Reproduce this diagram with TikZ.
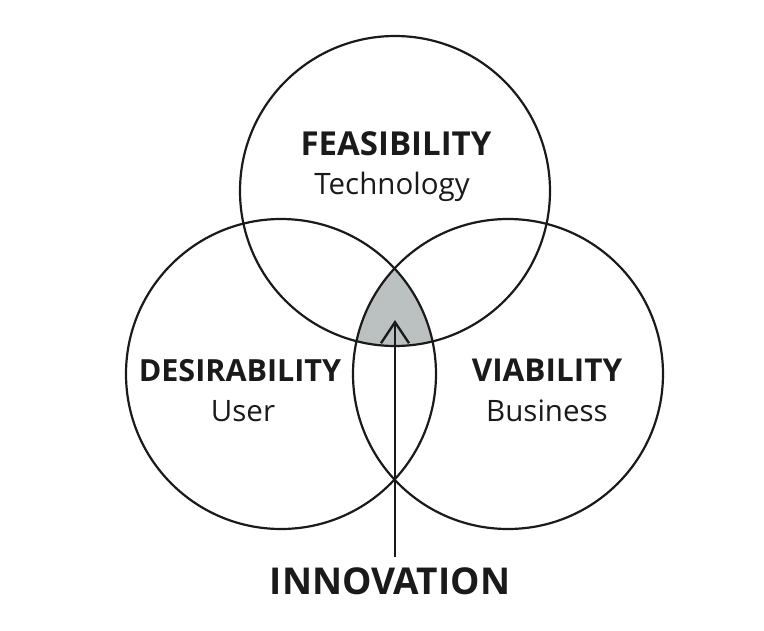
\documentclass[tikz,border=0pt]{standalone}
\usepackage{fontspec}
\setmainfont{Open Sans}
\usetikzlibrary{arrows.meta}
\definecolor{ink}{HTML}{1A1A1A}
\definecolor{overlap}{HTML}{BBC0C0}
\begin{document}
\begin{tikzpicture}[x=1pt,y=-1pt,
  ring/.style={circle,draw=ink,line width=2.2pt,minimum size=310pt,inner sep=0pt},
  headline/.style={text=ink,font=\bfseries\fontsize{31.5}{31.5}\selectfont,inner sep=0pt,anchor=base},
  subline/.style={text=ink,font=\fontsize{29.5}{29.5}\selectfont,inner sep=0pt,anchor=base},
  pointer/.style={draw=ink,line width=2.4pt,-{Straight Barb[length=21pt,width=28pt,line width=2.4pt]}}]
\useasboundingbox (0,0) rectangle (764,630);

% centres of the three sets
\coordinate (cT) at (395,191);
\coordinate (cL) at (281,374);
\coordinate (cR) at (508,374);

% shared area of all three sets
\begin{scope}
  \clip (cL) circle[radius=155];
  \clip (cR) circle[radius=155];
  \fill[overlap] (cT) circle[radius=155];
\end{scope}

\node[ring] (feas) at (cT) {};
\node[ring] (desi) at (cL) {};
\node[ring] (viab) at (cR) {};

% labels
\node[headline,font=\bfseries\fontsize{33}{33}\selectfont] (feasT) at (396,155) {FEASIBILITY};
\node[subline]  (feasS) at (392,194) {Technology};
\node[headline,font=\bfseries\fontsize{30.5}{30.5}\selectfont] (desiT) at (240,381) {DESIRABILITY};
\node[subline]  (desiS) at (243,421) {User};
\node[headline] (viabT) at (547,381) {VIABILITY};
\node[subline]  (viabS) at (547,421) {Business};
\node[headline,font=\bfseries\fontsize{37}{37}\selectfont] (innov) at (390,594) {INNOVATION};

% arrow into the shared area
\coordinate (base) at (395,557);
\coordinate (tip) at (395,320);
\draw[pointer] (base) -- (tip);
\end{tikzpicture}
\end{document}
